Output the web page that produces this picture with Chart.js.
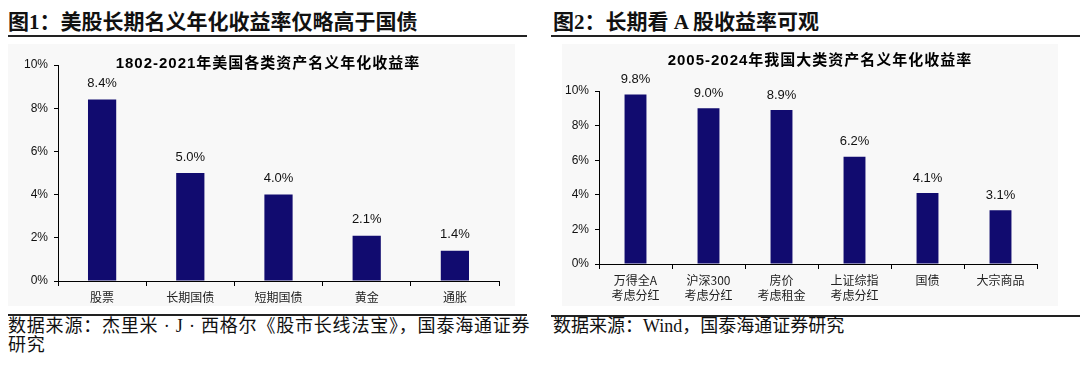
<!DOCTYPE html>
<html>
<head>
<meta charset="utf-8">
<script src="https://cdn.jsdelivr.net/npm/chart.js@4.4.1/dist/chart.umd.min.js"></script>
<style>
  html, body { margin: 0; padding: 0; background: #fff; }
  body { width: 1080px; height: 366px; position: relative; overflow: hidden; font-family: "Liberation Serif", "Noto Sans CJK SC", serif; color: #111; }
  .hd { position: absolute; top: 9px; font-size: 21px; font-weight: bold; white-space: nowrap; line-height: 26px; }
  .rule { position: absolute; height: 2px; background: #222; }
  .box { position: absolute; top: 44px; height: 262px; background: #f8f8f8; }
  .box canvas { position: absolute; left: 0; top: 0; }
  .ttl { position: absolute; font-family: "Liberation Sans", "Noto Sans CJK SC", sans-serif; font-weight: bold; font-size: 15px; letter-spacing: 1px; white-space: nowrap; transform: translateX(-50%); line-height: 18px; color: #000; }
  .ft { position: absolute; top: 317px; font-size: 18px; letter-spacing: 0.8px; line-height: 19px; white-space: nowrap; }
</style>
</head>
<body>
<div class="hd" style="left:8px">图1：美股长期名义年化收益率仅略高于国债</div>
<div class="rule" style="left:8px;top:35px;width:519px"></div>
<div class="box" style="left:8px;width:507px">
  <canvas id="chart1" width="507" height="262"></canvas>
  <div class="ttl" style="left:260px;top:10px">1802-2021年美国各类资产名义年化收益率</div>
</div>
<div class="rule" style="left:8px;top:314px;width:519px"></div>
<div class="ft" style="left:8px">数据来源：杰里米 · J · 西格尔《股市长线法宝》，国泰海通证券<br>研究</div>

<div class="hd" style="left:553px">图2：长期看 A 股收益率可观</div>
<div class="rule" style="left:551px;top:35px;width:529px"></div>
<div class="box" style="left:562px;width:496px">
  <canvas id="chart2" width="496" height="262"></canvas>
  <div class="ttl" style="left:258px;top:7px">2005-2024年我国大类资产名义年化收益率</div>
</div>
<div class="rule" style="left:551px;top:315px;width:529px"></div>
<div class="ft" style="left:553px;letter-spacing:0">数据来源：Wind，国泰海通证券研究</div>

<script>
// 图1：1802-2021 美国各类资产名义年化收益率 (%)
const usCategories = ['股票', '长期国债', '短期国债', '黄金', '通胀'];
const usReturns = [8.4, 5.0, 4.0, 2.1, 1.4];

// 图2：2005-2024 我国大类资产名义年化收益率 (%)
const cnCategories = [['万得全A', '考虑分红'], ['沪深300', '考虑分红'], ['房价', '考虑租金'], ['上证综指', '考虑分红'], '国债', '大宗商品'];
const cnReturns = [9.8, 9.0, 8.9, 6.2, 4.1, 3.1];

const yTicks = [0, 2, 4, 6, 8, 10];

const barColor = '#110b6f';

// draw value labels above each bar
const valueLabels = {
    id: 'valueLabels',
    afterDatasetsDraw(chart, args, opts) {
        const ctx = chart.ctx;
        const meta = chart.getDatasetMeta(0);
        const data = chart.data.datasets[0].data;
        ctx.save();
        ctx.font = '13px "Liberation Sans", Arial, sans-serif';
        ctx.fillStyle = '#111';
        ctx.textAlign = 'center';
        ctx.textBaseline = 'middle';
        meta.data.forEach((bar, i) => {
            ctx.fillText(data[i].toFixed(1) + '%', bar.x, bar.y - opts.gap);
        });
        ctx.restore();
    }
};

function makeChart(id, labels, values, pad, barPct, gap, xHeight) {
    const config = {
        type: 'bar',
        data: {
            labels: labels,
            datasets: [{
                data: values,
                backgroundColor: barColor,
                borderWidth: 0,
                barPercentage: barPct,
                categoryPercentage: 1
            }]
        },
        options: {
            responsive: false,
            animation: false,
            events: [],
            layout: { padding: pad },
            plugins: {
                legend: { display: false },
                tooltip: { enabled: false },
                valueLabels: { gap: gap }
            },
            scales: {
                x: {
                    afterFit: (scale) => { scale.height = xHeight; },
                    grid: { display: true, drawOnChartArea: false, offset: true, tickLength: 5, color: '#000' },
                    border: { color: '#000', width: 1 },
                    ticks: {
                        color: '#222',
                        padding: 4,
                        maxRotation: 0,
                        autoSkip: false,
                        font: { family: '"Noto Sans CJK SC", sans-serif', size: 12, lineHeight: 1.25 }
                    }
                },
                y: {
                    min: 0,
                    max: 10,
                    afterFit: (scale) => { scale.width = 34; },
                    afterBuildTicks: (scale) => {
                        scale.ticks = yTicks.map(v => ({ value: v }));
                    },
                    grid: { display: true, drawOnChartArea: false, tickLength: 4, color: '#000' },
                    border: { color: '#000', width: 1 },
                    ticks: {
                        color: '#111',
                        padding: 6,
                        font: { family: '"Liberation Sans", Arial, sans-serif', size: 12 },
                        callback: (v) => v + '%'
                    }
                }
            }
        },
        plugins: [valueLabels]
    };
    return new Chart(document.getElementById(id), config);
}

makeChart('chart1', usCategories, usReturns, { top: 21, left: 16, right: 16, bottom: 0 }, 0.32, 16, 25);
makeChart('chart2', cnCategories, cnReturns, { top: 47, left: 3, right: 21, bottom: 1 }, 0.3, 15, 41);
</script>
</body>
</html>
